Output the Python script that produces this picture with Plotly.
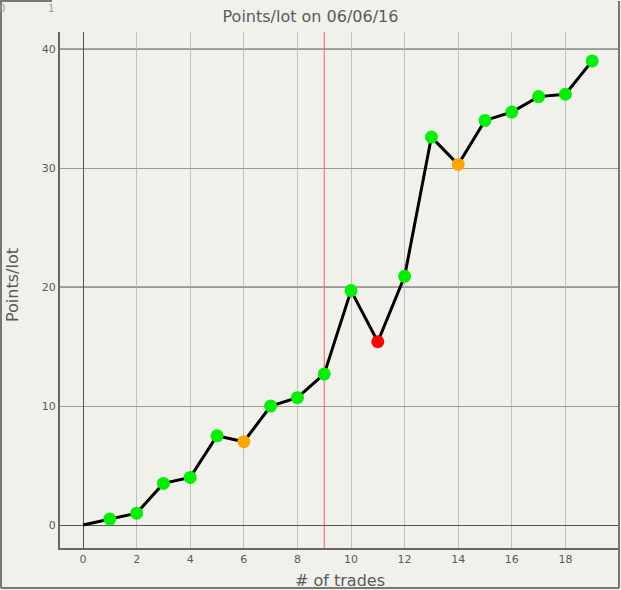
import plotly.graph_objects as go

# data
trades = list(range(20))
points = [0, 0.5, 1.0, 3.5, 4.0, 7.5, 7.0, 10.0, 10.7, 12.7,
          19.7, 15.4, 20.9, 32.6, 30.3, 34.0, 34.7, 36.0, 36.2, 39.0]
status = ["start", "up", "up", "up", "up", "up", "flat", "up", "up", "up",
          "up", "down", "up", "up", "flat", "up", "up", "up", "up", "up"]
marker_ref = 9

colours = {"start": "rgba(0,0,0,0)", "up": "#00ee00", "flat": "#ffa500", "down": "#ff0000"}
bg = "#f1f1ec"
txt = "#5a5a5a"

fig = go.Figure()
fig.add_trace(go.Scatter(
    x=trades, y=points, mode="lines+markers",
    line=dict(color="black", width=3),
    marker=dict(size=13, color=[colours[s] for s in status], line=dict(width=0)),
    hoverinfo="x+y", showlegend=False,
))

fig.update_layout(
    width=621, height=590,
    margin=dict(l=60, r=2, t=32, b=42),
    paper_bgcolor=bg, plot_bgcolor=bg,
    font=dict(family="DejaVu Sans", color=txt, size=11),
    title=dict(text="Points/lot on 06/06/16", x=0.5, xanchor="center",
               y=1 - 16 / 590, yanchor="middle", font=dict(size=16, color=txt)),
    xaxis=dict(range=[-0.86, 20.0], tickvals=list(range(0, 20, 2)),
               showgrid=True, gridcolor="#c2c2c2", gridwidth=1,
               zeroline=True, zerolinecolor="#555555", zerolinewidth=1,
               showline=True, linecolor="#666666", linewidth=2, mirror=False,
               ticks="", tickfont=dict(size=11, color=txt)),
    yaxis=dict(range=[-1.93, 41.43], tickvals=[0, 10, 20, 30, 40],
               showgrid=True, gridcolor="#999999", gridwidth=1,
               zeroline=True, zerolinecolor="#555555", zerolinewidth=1,
               showline=True, linecolor="#666666", linewidth=2,
               ticks="", tickfont=dict(size=11, color=txt)),
    annotations=[
        dict(text="# of trades", xref="paper", yref="paper", x=0.5, y=-(580 - 548) / 516,
             xanchor="center", yanchor="middle", showarrow=False, font=dict(size=16, color=txt)),
        dict(text="Points/lot", xref="paper", yref="paper", x=-(60 - 12) / 559, y=(548 - 285) / 516,
             xanchor="center", yanchor="middle", textangle=-90, showarrow=False,
             font=dict(size=16, color=txt)),
        dict(text="0", xref="paper", yref="paper", x=-(60 - 2) / 559, y=(548 - 9) / 516,
             xanchor="center", yanchor="middle", showarrow=False, font=dict(size=10, color="#999999")),
        dict(text="1", xref="paper", yref="paper", x=-(60 - 51) / 559, y=(548 - 9) / 516,
             xanchor="center", yanchor="middle", showarrow=False, font=dict(size=10, color="#999999")),
    ],
    shapes=[
        # 20 and 40 lines drawn darker
        dict(type="line", xref="paper", x0=0, x1=1, yref="y", y0=20, y1=20,
             line=dict(color="#555555", width=1), layer="below"),
        dict(type="line", xref="paper", x0=0, x1=1, yref="y", y0=40, y1=40,
             line=dict(color="#555555", width=1), layer="below"),
        # reference line
        dict(type="line", xref="x", x0=marker_ref, x1=marker_ref, yref="paper", y0=0, y1=1,
             line=dict(color="#ff5a6e", width=1), layer="below"),
        # outer frame
        dict(type="line", xref="paper", yref="paper", x0=-59 / 559, x1=-59 / 559,
             y0=-40 / 516, y1=547 / 516, line=dict(color="#777777", width=2)),
        dict(type="line", xref="paper", yref="paper", x0=-59 / 559, x1=1.0,
             y0=-40 / 516, y1=-40 / 516, line=dict(color="#777777", width=2)),
        dict(type="line", xref="paper", yref="paper", x0=1.0, x1=1.0,
             y0=-40 / 516, y1=547 / 516, line=dict(color="#777777", width=2)),
        dict(type="line", xref="paper", yref="paper", x0=-60 / 559, x1=-8 / 559,
             y0=547 / 516, y1=547 / 516, line=dict(color="#777777", width=2)),
    ],
)

# page margin off so the chart sits at the window's corner
fig.write_html("out.html", config={"displayModeBar": False},
               post_script="document.body.style.margin='0';")
